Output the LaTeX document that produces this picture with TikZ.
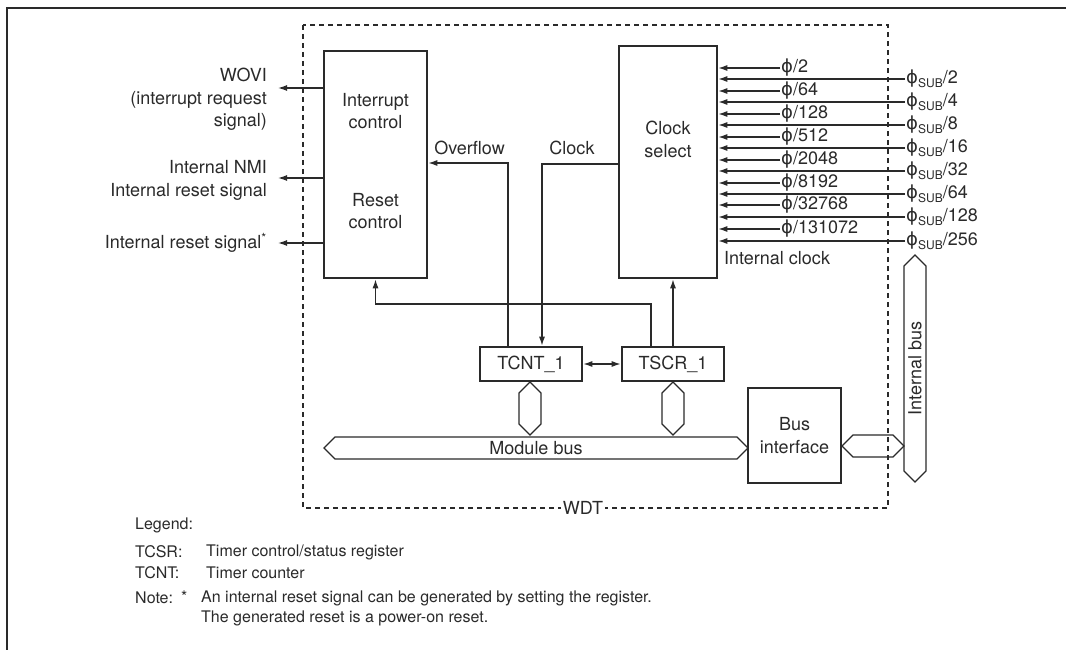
\documentclass[tikz,border=0pt]{standalone}
\usepackage{fontspec}
\setmainfont{TeX Gyre Heros}
\newfontfamily\phifont{DejaVu Sans}
\usetikzlibrary{arrows.meta,shapes.arrows}
\definecolor{ink}{HTML}{2A2A2A}
\newcommand{\ph}{{\phifont ϕ}}
\newcommand{\phs}{{\phifont ϕ}\raisebox{-0.35ex}{\fontsize{12}{12}\selectfont SUB}}
\tikzset{
  box/.style={draw=ink, line width=2.6pt, inner sep=0pt},
  wire/.style={draw=ink, line width=1.3pt},
  arr/.style={wire, -{Latex[length=9pt,width=6pt]}},
  arrb/.style={wire, {Latex[length=9pt,width=6pt]}-{Latex[length=9pt,width=6pt]}},
  txt/.style={text=ink, inner sep=0pt, font=\fontsize{18}{22.5}\selectfont},
  lgd/.style={text=ink, inner sep=0pt, anchor=west, font=\fontsize{16}{20}\selectfont},
  bus/.style={double arrow, draw=ink, line width=1.3pt, double arrow head extend=0pt,
              double arrow tip angle=90, inner sep=0pt, minimum width=22pt, text=ink,
              font=\fontsize{18}{22.5}\selectfont},
}
\begin{document}
\begin{tikzpicture}[x=1pt,y=-1pt]
\useasboundingbox (0,0) rectangle (1066,650);
% outer frame
\draw[ink, line width=2.6pt] (1066,8) -- (7,8) -- (7,650);
% WDT dashed box
\draw[ink, line width=1.2pt, dash pattern=on 5pt off 4pt] (303,25) rectangle (888,508);
\node[txt, fill=white, inner xsep=2pt, inner ysep=1pt] (wdt) at (583,508) {WDT};

% main boxes
\node[box, minimum width=103pt, minimum height=227pt] (ic) at (375.5,164.5) {};
\node[box, minimum width=98pt, minimum height=232pt] (cs) at (668,162) {};
\node[box, minimum width=102pt, minimum height=34pt] (tcnt) at (531,364) {};
\node[box, minimum width=102pt, minimum height=34pt] (tscr) at (673,364) {};
\node[box, minimum width=93pt, minimum height=95pt] (bif) at (794.5,435.5) {};

% texts inside boxes
\node[txt, align=center] (ict) at (375.5,111) {Interrupt\\control};
\node[txt, align=center] (rct) at (375.5,211) {Reset\\control};
\node[txt, align=center] (cst) at (668,139.5) {Clock\\select};
\node[txt] (tcntt) at (tcnt) {TCNT\_1};
\node[txt] (tscrt) at (tscr) {TSCR\_1};
\node[txt, align=center] (bift) at (bif) {Bus\\interface};

% left outputs
\node[txt, anchor=east, align=right] (lwovi) at (267,99.5) {WOVI\\(interrupt request\\signal)};
\node[txt, anchor=east, align=right] (lnmi) at (267,180.5) {Internal NMI\\Internal reset signal};
\node[txt, anchor=east] (lrst) at (267,243) {Internal reset signal\textsuperscript{*}};
\coordinate (o1) at (278,88);
\coordinate (o2) at (278,178);
\coordinate (o3) at (278,243);
\draw[arr] (ic.west |- o1) -- (o1);
\draw[arr] (ic.west |- o2) -- (o2);
\draw[arr] (ic.west |- o3) -- (o3);

% overflow / clock
\coordinate (ovf) at (508,163);
\coordinate (clk) at (542,164);
\node[txt] (lovf) at (469.5,148) {Overflow};
\node[txt] (lclk) at (572,148) {Clock};
\draw[arr] (tcnt.north -| ovf) -- (ovf) -- (ic.east |- ovf);
\draw[arr] (cs.west |- clk) -- (clk) -- (tcnt.north -| clk);

% TSCR outputs
\coordinate (rst) at (651,304);
\draw[arr] (tscr.north -| rst) -- (rst) -| (ic.south);
\draw[arr] (tscr.north) -- (cs.south -| tscr.north);
\draw[arrb] (tcnt.east) -- (tscr.west);

% phi inputs
\foreach \n/\y/\t in {1/68/2,2/91/64,3/114/128,4/137/512,5/160/2048,6/183/8192,7/205/32768,8/229/131072}{
  \node[txt, anchor=west, inner xsep=1pt] (p\n) at (780,\y) {\ph/\t};
  \draw[arr] (p\n.west) -- (cs.east |- p\n.west);
}
\foreach \n/\y/\t in {1/79/2,2/102/4,3/125/8,4/148/16,5/171/32,6/194/64,7/217/128,8/241/256}{
  \node[txt, anchor=west, inner xsep=1pt] (s\n) at (905,\y) {\phs/\t};
  \draw[arr] (s\n.west) -- (cs.east |- s\n.west);
}
\node[txt, anchor=west] (lic) at (724,258) {Internal clock};

% buses
\node[bus, minimum height=53pt, rotate=90] (b1) at (530,408.5) {};
\node[bus, minimum height=53pt, rotate=90] (b2) at (673,408.5) {};
\node[bus, minimum height=424pt] (mbus) at (536,448) {Module bus};
\node[bus, minimum height=62pt] (b3) at (873,446) {};
\node[bus, minimum height=227pt, rotate=90] (ibus) at (915,368.5) {Internal bus};

% legend
\node[lgd] (lg0) at (135,525) {Legend:};
\node[lgd] (lg1) at (135,552) {TCSR:};
\node[lgd] (lg1t) at (206,552) {Timer control/status register};
\node[lgd] (lg2) at (135,573) {TCNT:};
\node[lgd] (lg2t) at (206,573) {Timer counter};
\node[lgd] (lg3) at (135,598) {Note:};
\node[lgd] (lg3s) at (181,597) {*};
\node[lgd] (lg3t) at (201,598) {An internal reset signal can be generated by setting the register.};
\node[lgd] (lg4t) at (201,618) {The generated reset is a power-on reset.};
\end{tikzpicture}
\end{document}
